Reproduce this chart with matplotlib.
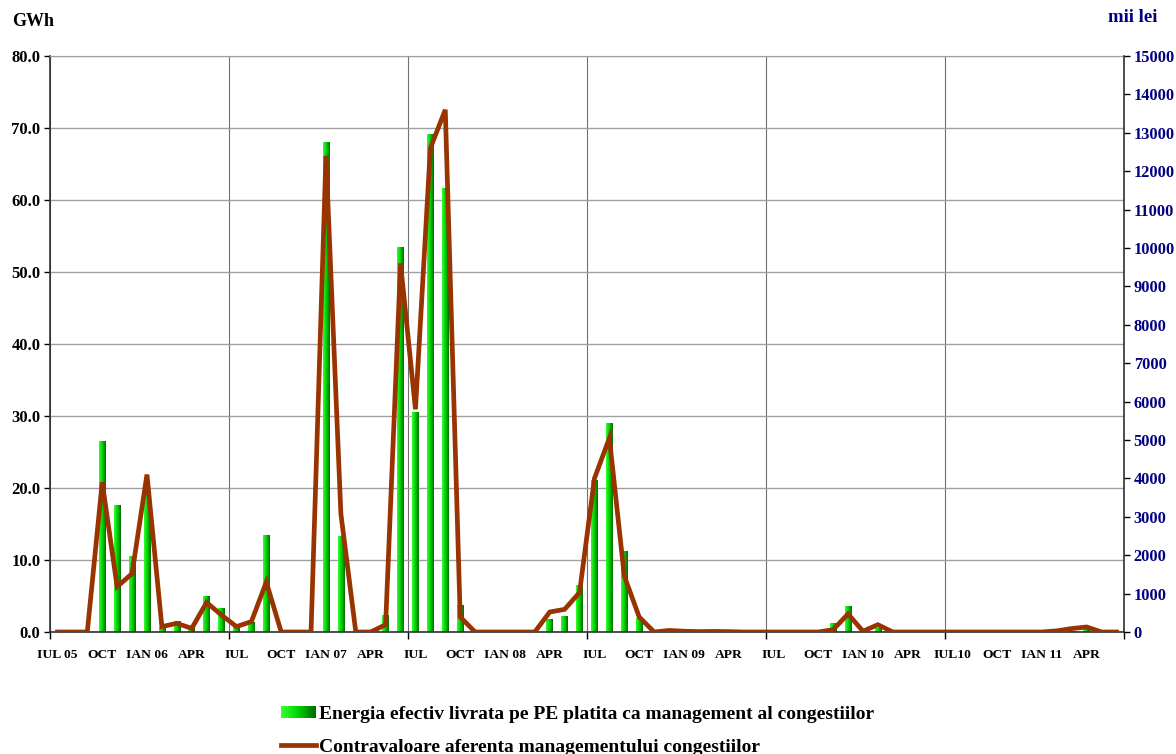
import numpy as np
import matplotlib
matplotlib.use("Agg")
import matplotlib.pyplot as plt
from matplotlib.colors import LinearSegmentedColormap
from matplotlib.patches import Rectangle
from matplotlib.lines import Line2D
from matplotlib.legend_handler import HandlerBase

# ---------------- data ----------------
month_count = 72  # IUL 2005 .. IUN 2011
energy_gwh = [
    0, 0, 0, 26.4, 17.6, 10.5, 19.5, 0.6, 1.4, 0.7, 5.0, 3.2,
    0.8, 1.3, 13.4, 0, 0, 0, 68.0, 13.3, 0, 0, 2.3, 53.4,
    30.5, 69.1, 61.6, 3.7, 0, 0, 0, 0, 0, 1.7, 2.2, 6.4,
    21.0, 28.9, 11.2, 1.9, 0, 0, 0, 0, 0, 0, 0, 0,
    0, 0, 0, 0, 1.2, 3.6, 0, 0.5, 0, 0, 0, 0,
    0, 0, 0, 0, 0, 0, 0, 0, 0.1, 0.35, 0, 0,
]
cost_mii_lei = [
    0, 0, 0, 3900, 1180, 1520, 4100, 140, 225, 95, 770, 440,
    140, 270, 1300, 0, 0, 0, 12400, 3080, 0, 0, 190, 9600,
    5800, 12600, 13600, 390, 0, 0, 0, 0, 0, 520, 590, 1030,
    4000, 5050, 1460, 390, 0, 40, 20, 10, 15, 10, 0, 0,
    0, 0, 0, 0, 60, 470, 20, 190, 0, 0, 0, 0,
    0, 0, 0, 0, 0, 0, 0, 30, 90, 130, 0, 0,
]
tick_labels = ["IUL 05", "OCT", "IAN 06", "APR", "IUL", "OCT", "IAN 07", "APR",
               "IUL", "OCT", "IAN 08", "APR", "IUL", "OCT", "IAN 09", "APR",
               "IUL", "OCT", "IAN 10", "APR", "IUL10", "OCT", "IAN 11", "APR"]
label_bar = "Energia efectiv livrata pe PE platita ca management al congestiilor"
label_line = "Contravaloare aferenta managementului congestiilor"

# ---------------- style ----------------
plt.rcParams['font.family'] = ['Liberation Serif', 'DejaVu Serif']
plt.rcParams['font.weight'] = 'bold'
NAVY = '#000080'
BROWN = '#993300'
green_cmap = LinearSegmentedColormap.from_list('g', ['#33ff33', '#00d000', '#006a00'])

fig = plt.figure(figsize=(11.76, 7.54), dpi=100)
ax = fig.add_axes([50/1176, 1-632/754, 1074/1176, 576/754])
ax2 = ax.twinx()

x = np.arange(month_count)
bw = 0.44
bars = ax.bar(x, energy_gwh, width=bw, color='none', edgecolor='none', zorder=2)
grad = np.linspace(0, 1, 64).reshape(1, -1)
for r in bars:
    h = r.get_height()
    if h <= 0:
        continue
    x0 = r.get_x()
    ax.imshow(grad, extent=[x0, x0 + r.get_width(), 0, h], aspect='auto',
              cmap=green_cmap, zorder=2, interpolation='bilinear')

ax.set_xlim(-0.5, month_count - 0.5)
ax.set_ylim(0, 80)
ax.set_yticks(np.arange(0, 81, 10))
ax.set_yticklabels([f"{v:.1f}" for v in np.arange(0, 81, 10)], fontsize=12, fontweight='bold')
ax.grid(axis='y', color='#a0a0a0', linewidth=1.0, zorder=0)

# year boundaries -> major ticks / vertical grid
ax.set_xticks(np.arange(-0.5, month_count, 12))
ax.set_xticklabels([])
ax.grid(axis='x', which='major', color='#707070', linewidth=0.8)
ax.set_xticks(np.arange(0, month_count, 3), minor=True)
ax.set_xticklabels(tick_labels, minor=True, fontsize=9.7, fontweight='bold')
ax.tick_params(axis='x', which='major', length=5, direction='out', width=1)
ax.tick_params(axis='x', which='minor', length=0, pad=12)
ax.tick_params(axis='y', length=4, direction='out', width=1, pad=3)
ax.set_axisbelow(True)

for s in ['left', 'bottom']:
    ax.spines[s].set_color('#303030')
    ax.spines[s].set_linewidth(1.2)
ax.spines['top'].set_color('#a0a0a0')
ax.spines['right'].set_visible(False)

ax2.plot(x, cost_mii_lei, color=BROWN, linewidth=3.4, solid_joinstyle='miter', zorder=3)
ax2.set_ylim(0, 15000)
ax2.set_yticks(np.arange(0, 15001, 1000))
ax2.set_yticklabels([str(v) for v in range(0, 15001, 1000)], fontsize=11.8,
                    fontweight='bold', color=NAVY)
ax2.tick_params(axis='y', length=4, direction='out', width=1, pad=3)
ax2.spines['right'].set_color('#303030')
ax2.spines['right'].set_linewidth(1.2)
for s in ['left', 'top', 'bottom']:
    ax2.spines[s].set_visible(False)

fig.text(12/1176, 1-22/754, "GWh", fontsize=13, fontweight='bold', va='center', ha='left')
fig.text(1133/1176, 1-17/754, "mii lei", fontsize=13.5, fontweight='bold', va='center',
         ha='center', color=NAVY)


class GradientHandler(HandlerBase):
    def create_artists(self, legend, orig_handle, xdescent, ydescent, width, height,
                       fontsize, trans):
        n = 24
        arts = []
        for i in range(n):
            c = green_cmap(i / (n - 1))
            arts.append(Rectangle((-xdescent + width * i / n, -ydescent + height * 0.05),
                                  width / n + 0.3, height * 0.85, facecolor=c,
                                  edgecolor='none', transform=trans))
        return arts


bar_handle = Rectangle((0, 0), 1, 1)
line_handle = Line2D([], [], color=BROWN, linewidth=3.4)
fig.legend([bar_handle, line_handle], [label_bar, label_line],
           handler_map={Rectangle: GradientHandler()},
           loc='upper left', bbox_to_anchor=(281/1176, 1-705/754), frameon=False,
           prop={'size': 14, 'weight': 'bold'}, handlelength=1.8, handletextpad=0.15,
           labelspacing=0.8, borderpad=0, borderaxespad=0)

fig.savefig("out.png", dpi=100)
